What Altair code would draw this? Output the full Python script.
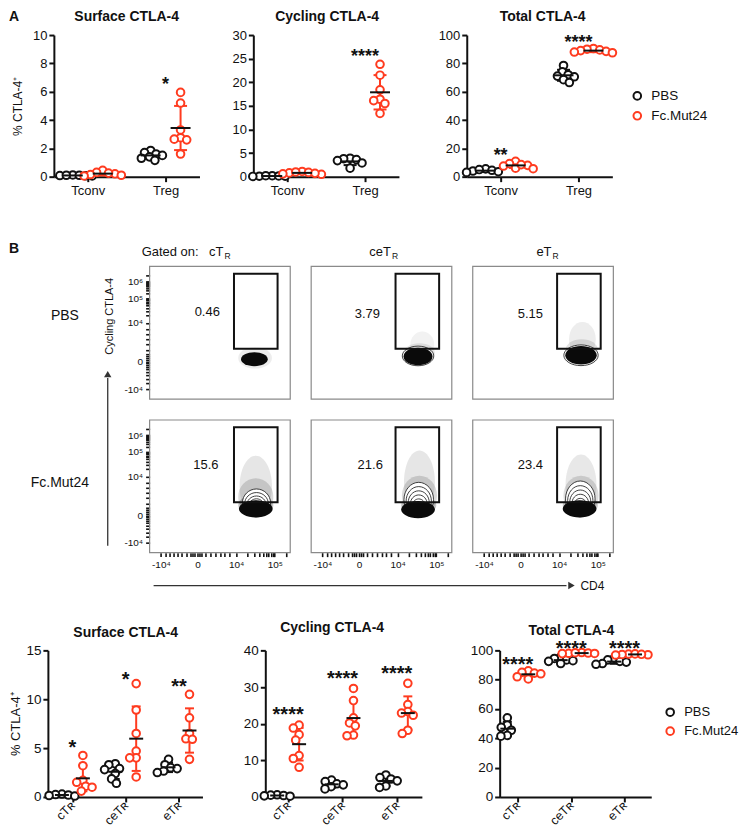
import json
import math
import altair as alt
import pandas as pd

FONT = "Liberation Sans"
INK = "#111111"
RED = "#ff3b1f"
GROUPS = ["PBS", "Fc.Mut24"]
GROUP_COLORS = [INK, RED]

# ---------------- Panel A (Tconv / Treg) ----------------
A_CATS = ["Tconv", "Treg"]
A_SURF_PBS = [[0.12, 0.08, 0.10, 0.05, 0.06, 0.10], [1.85, 1.70, 1.60, 1.50, 1.40, 1.30, 1.15]]
A_SURF_FC = [[0.45, 0.30, 0.20, 0.15, 0.10, 0.25, 0.05], [5.95, 5.20, 3.30, 2.75, 2.65, 2.60, 1.60]]
A_SURF_STARS = ["", "*"]
A_SURF_STAR_Y = [0, 6.8]
A_CYC_PBS = [[0.20, 0.15, 0.10, 0.10, 0.20, 0.05], [3.9, 3.8, 3.6, 3.4, 2.9, 1.8]]
A_CYC_FC = [[1.1, 0.9, 0.8, 0.6, 1.0, 0.5, 0.7], [23.8, 21.5, 18.4, 16.4, 16.1, 15.5, 13.4]]
A_CYC_STARS = ["", "****"]
A_CYC_STAR_Y = [0, 26.4]
A_TOT_PBS = [[5.5, 4.5, 4.0, 3.5, 3.0, 5.0], [78.5, 74.0, 72.0, 71.0, 70.5, 68.5, 66.5]]
A_TOT_FC = [[10.8, 9.2, 8.0, 7.5, 6.0, 5.6, 8.5], [90.5, 90.0, 89.5, 89.0, 88.5, 88.0, 87.5]]
A_TOT_STARS = ["**", "****"]
A_TOT_STAR_Y = [18, 97.7]

# ---------------- Bottom panels (cTR / ceTR / eTR) ----------------
B_CATS = ["cTʀ", "ceTʀ", "eTʀ"]
B_SURF_PBS = [[0.30, 0.25, 0.20, 0.15, 0.10], [3.4, 3.3, 2.9, 2.8, 2.4, 1.85, 1.4], [3.85, 3.3, 3.0, 2.9, 2.65, 2.5]]
B_SURF_FC = [[4.25, 3.2, 1.7, 1.5, 1.1, 1.0, 0.6], [11.6, 8.9, 6.5, 4.7, 4.0, 4.0, 2.05], [10.5, 8.1, 6.5, 5.95, 5.9, 3.85]]
B_SURF_STARS = ["*", "*", "**"]
B_SURF_STAR_Y = [5.5, 12.5, 11.8]
B_CYC_PBS = [[0.6, 0.5, 0.4, 0.3, 0.2], [4.6, 4.2, 3.6, 3.3, 2.8, 2.2], [6.0, 5.3, 4.9, 4.4, 3.0, 2.6]]
B_CYC_FC = [[19.6, 18.8, 17.0, 15.5, 11.3, 10.5, 8.1], [29.6, 26.3, 21.6, 20.2, 19.4, 16.9, 16.7], [31.0, 25.2, 23.3, 22.9, 22.3, 18.2, 17.3]]
B_CYC_STARS = ["****", "****", "****"]
B_CYC_STAR_Y = [23.8, 33.6, 35.0]
B_TOT_PBS = [[54, 49, 47.5, 45.5, 42, 41.5], [95.5, 94.5, 93.5, 93, 92.5, 91], [94.5, 93.5, 92.5, 92, 91, 90.5]]
B_TOT_FC = [[86, 85, 84.5, 84, 82, 80.5], [98.5, 98.2, 98.0, 97.8, 98.4, 97.9], [97.5, 97.2, 97.0, 96.8, 97.6, 97.3]]
B_TOT_STARS = ["****", "****", "****"]
B_TOT_STAR_Y = [93.5, 104.6, 104.0]

# ---------------- Flow panels ----------------
FLOW_ROWS = ["PBS", "Fc.Mut24"]
FLOW_COLS = ["cT", "ceT", "eT"]
FLOW_PCT = [["0.46", "3.79", "5.15"], ["15.6", "21.6", "23.4"]]
FLOW_PCT_X = [[41, 40, 41], [40, 42, 41]]
FLOW_PCT_Y = [[66, 64, 64], [66, 66, 66]]
GATE_X = [60, 91]
GATE_Y = [38, 94.5]
# (kind, cx, cy, ax, ay, density) in axis units 0-100
BLOB_PBS_CT = [("haze", 75, 31, 12, 8, 0.08), ("core", 74.5, 30, 9.5, 5.2, 1)]
BLOB_PBS_CET = [("haze", 79, 41, 8.5, 10, 0.06), ("haze", 77, 35, 11, 7, 0.10),
                ("outer", 76, 32.5, 11.2, 7.4, 1), ("core", 76, 32, 10.3, 6.6, 1)]
BLOB_PBS_ET = [("haze", 78, 45, 9.5, 13, 0.08), ("haze", 77.5, 37, 11.5, 8, 0.12),
               ("outer", 77, 33, 12.2, 7.8, 1), ("core", 77, 33, 11.2, 7.0, 1)]
BLOB_FC_CT = [("haze", 75.5, 50, 11.5, 23, 0.11), ("haze", 75.5, 42, 12.5, 14, 0.16), ("haze", 75.5, 36, 12.5, 7.5, 0.25),
              ("outer", 76, 37.5, 10, 10.5, 1), ("ring", 76, 36.5, 8.5, 8.8, 1), ("ring", 76, 35.5, 7, 7.2, 1),
              ("ring", 76, 34.8, 5.5, 5.8, 1), ("ring", 76, 34.2, 4, 4.5, 1), ("core", 75.5, 33, 12, 6.5, 1)]
BLOB_FC_CET = [("haze", 77, 53, 11, 24, 0.11), ("haze", 77, 43, 12.5, 15, 0.16), ("haze", 76.5, 36, 12.5, 7.5, 0.25),
               ("outer", 76.5, 40, 10.5, 13, 1), ("ring", 76.5, 38.8, 9, 11, 1), ("ring", 76.5, 37.6, 7.5, 9, 1),
               ("ring", 76.5, 36.5, 6, 7, 1), ("ring", 76.5, 35.5, 4.5, 5, 1), ("core", 76, 32.5, 12, 6.5, 1)]
BLOB_FC_ET = [("haze", 77, 51, 11, 23, 0.10), ("haze", 77, 43, 12.5, 15, 0.15), ("haze", 76.5, 36, 12.5, 7.5, 0.24),
              ("outer", 76.5, 40.5, 10.5, 13.5, 1), ("ring", 76.5, 39.2, 9, 11.3, 1), ("ring", 76.5, 38, 7.5, 9.2, 1),
              ("ring", 76.5, 36.8, 6, 7.2, 1), ("ring", 76.5, 35.7, 4.5, 5.2, 1), ("core", 76, 33, 12, 6.5, 1)]
FLOW_BLOBS = [[BLOB_PBS_CT, BLOB_PBS_CET, BLOB_PBS_ET], [BLOB_FC_CT, BLOB_FC_CET, BLOB_FC_ET]]
FLOW_X_MAJOR = [8, 34, 61.5, 89]
FLOW_X_MAJOR_LBL = ["-10⁴", "0", "10⁴", "10⁵"]
FLOW_X_MINOR = [11, 14, 17, 20, 23, 26, 29, 30.5, 32, 35.5, 37, 40, 43, 46.5, 50, 53.5, 57,
                69.8, 74.6, 78.1, 80.7, 82.9, 84.7, 86.3, 87.7, 97]
FLOW_Y_MAJOR = [7.5, 28, 57.5, 76, 88.5]
FLOW_Y_MAJOR_LBL = ["-10⁴", "0", "10⁴", "10⁵", "10⁶"]
FLOW_Y_MINOR = [12, 15, 18, 20.5, 22.5, 24, 25.5, 27, 29, 30.5, 32, 33.5, 37, 41, 45, 49, 53,
                63.1, 66.3, 68.6, 70.4, 71.9, 73.1, 74.2, 75.1, 79.8, 82, 83.5, 84.7, 85.7, 86.6, 87.3, 87.9, 93]

ONE = pd.DataFrame({"k": [0]})
HLINE = "M -1 0 L 1 0"


def swarm(vals, ppy, d=6.5):
    placed = []
    offs = [0.0] * len(vals)
    order = sorted(range(len(vals)), key=lambda i: -vals[i])
    for i in order:
        y = vals[i] * ppy
        cands = [0.0]
        for (px, py) in placed:
            dy = abs(py - y)
            if dy < d:
                dx = math.sqrt(d * d - dy * dy)
                cands += [px - dx, px + dx]
        cands.sort(key=lambda c: (abs(c), c))
        for c in cands:
            if all((c - px) ** 2 + (y - py) ** 2 >= d * d - 1e-6 for px, py in placed):
                offs[i] = c
                break
        placed.append((offs[i], y))
    return offs


def text_at(txt, x, y, size=13, weight="normal", align="left", baseline="alphabetic", angle=0, color=INK):
    kw = dict(text=txt, font=FONT, fontSize=size, fontWeight=weight, align=align, baseline=baseline, color=color)
    if angle:
        kw["angle"] = angle
    return alt.Chart(ONE).mark_text(**kw).encode(x=alt.value(x), y=alt.value(y))


def bounds_rule(x1, y1, x2, y2):
    return alt.Chart(ONE).mark_rule(opacity=0).encode(
        x=alt.value(x1), x2=alt.value(x2), y=alt.value(y1), y2=alt.value(y2))


def dot_panel(cats, pbs, fc, star_txt, star_y, ymax, yticks, w, h, xdom, title, title_x, title_y,
              ytitle=None, label_fs=13, xlabel_fs=13, ytitle_fs=12, ytitle_pad=8, star_fs=18, off_px=15,
              mean_w=20, cap_w=13, rotate=False, legend_at=None, legend_fs=13.5, letter=None, bounds=None):
    ppx = w / (xdom[1] - xdom[0])
    ppy = h / ymax
    rows = []
    for ci in range(len(cats)):
        for gi, series in enumerate((pbs, fc)):
            vals = series[ci]
            xc = ci + 1 + (off_px if gi else -off_px) / ppx
            for v, o in zip(vals, swarm(vals, ppy)):
                rows.append({"grp": GROUPS[gi], "xc": xc, "x": xc + o / ppx, "v": v})
    df = pd.DataFrame(rows)
    stars = pd.DataFrame([{"x": i + 1, "y": y, "t": t}
                          for i, (t, y) in enumerate(zip(star_txt, star_y)) if t])

    xaxis = alt.Axis(values=list(range(1, len(cats) + 1)),
                     labelExpr=json.dumps(cats, ensure_ascii=False) + "[datum.value - 1]",
                     grid=False, domainColor=INK, domainWidth=2, tickColor=INK, tickWidth=2, tickSize=5,
                     labelFont=FONT, labelFontSize=xlabel_fs, labelColor=INK,
                     labelPadding=1 if rotate else 3,
                     labelAngle=-45 if rotate else 0, labelAlign="right" if rotate else "center",
                     labelBaseline="middle" if rotate else "top")
    yaxis = alt.Axis(values=yticks, grid=False, domainColor=INK, domainWidth=2, tickColor=INK, tickWidth=2,
                     tickSize=5, labelFont=FONT, labelFontSize=label_fs, labelColor=INK, labelPadding=2,
                     titleFont=FONT, titleFontSize=ytitle_fs, titleFontWeight="normal", titleColor=INK,
                     titlePadding=ytitle_pad)
    xs = alt.Scale(domain=list(xdom), nice=False, zero=False)
    ys = alt.Scale(domain=[0, ymax], nice=False)

    def X(f):
        return alt.X(f + ":Q", scale=xs, axis=xaxis, title=None)

    def Y(f):
        return alt.Y(f + ":Q", scale=ys, axis=yaxis, title=ytitle)

    stroke = alt.Stroke("grp:N", scale=alt.Scale(domain=GROUPS, range=GROUP_COLORS), legend=None)
    base = alt.Chart(df)
    agg = base.transform_aggregate(m="mean(v)", sd="stdev(v)", groupby=["xc", "grp"]).transform_calculate(
        lo="datum.m - datum.sd", hi="datum.m + datum.sd")
    layers = []
    if bounds:
        layers.append(bounds_rule(*bounds))
    layers.append(agg.mark_rule(strokeWidth=2).encode(x=X("xc"), y=Y("lo"), y2="hi:Q", stroke=stroke))
    layers.append(agg.transform_fold(["lo", "hi"], as_=["k", "cv"]).mark_point(
        shape=HLINE, size=cap_w ** 2, strokeWidth=2, opacity=1).encode(x=X("xc"), y=Y("cv"), stroke=stroke))
    layers.append(base.mark_point(shape="circle", size=58, strokeWidth=2, fill="white", opacity=1).encode(
        x=X("x"), y=Y("v"), stroke=stroke))
    layers.append(agg.mark_point(shape=HLINE, size=mean_w ** 2, strokeWidth=2, opacity=1, color=INK).encode(
        x=X("xc"), y=Y("m")))
    layers.append(alt.Chart(stars).mark_text(font=FONT, fontSize=star_fs, fontWeight="bold", color=INK,
                                             baseline="alphabetic", dy=round(star_fs * 0.55)).encode(
        x=X("x"), y=Y("y"), text="t:N"))
    layers.append(text_at(title, title_x, title_y, size=14, weight="bold", align="center"))
    if letter:
        layers.append(text_at(letter[0], letter[1], letter[2], size=14, weight="bold"))
    if legend_at:
        lx, ly, lh = legend_at
        for gi, g in enumerate(GROUPS):
            layers.append(alt.Chart(ONE).mark_point(shape="circle", size=58, strokeWidth=2, fill="white",
                                                    stroke=GROUP_COLORS[gi], opacity=1).encode(
                x=alt.value(lx), y=alt.value(ly + gi * lh)))
            layers.append(text_at(g, lx + 14, ly + gi * lh, size=legend_fs, baseline="middle"))
    return alt.layer(*layers).properties(width=w, height=h)


def spacer(w):
    # an invisible 1-px mark well inside the spacer, so it never widens the layout bounds
    return alt.Chart(ONE).mark_point(opacity=0, size=1).encode(
        x=alt.value(w / 2), y=alt.value(5)).properties(width=w, height=10)


# Page geometry: every row's origin sits at page x = 8 (left edge); leading spacers move the plots.
# ---------------- Row A ----------------
AW, AH = 146, 142
AXD = (0.565, 2.435)
a1 = dot_panel(A_CATS, A_SURF_PBS, A_SURF_FC, A_SURF_STARS, A_SURF_STAR_Y, 10, [0, 2, 4, 6, 8, 10], AW, AH, AXD,
               "Surface CTLA-4", 73, -14, ytitle="% CTLA-4⁺", ytitle_fs=12, ytitle_pad=8,
               letter=("A", -45, -14), bounds=(-45, -25, 688, 199))
a2 = dot_panel(A_CATS, A_CYC_PBS, A_CYC_FC, A_CYC_STARS, A_CYC_STAR_Y, 30, [0, 5, 10, 15, 20, 25, 30], AW, AH, AXD,
               "Cycling CTLA-4", 74, -14)
a3 = dot_panel(A_CATS, A_TOT_PBS, A_TOT_FC, A_TOT_STARS, A_TOT_STAR_Y, 100, [0, 20, 40, 60, 80, 100], AW, AH, AXD,
               "Total CTLA-4", 76, -14, legend_at=(171, 61, 20))
row_a = alt.hconcat(spacer(45), a1, spacer(54), a2, spacer(68), a3, spacing=0, bounds="flush")

# ---------------- Flow (middle) ----------------
PW, PH, GAP = 141, 133, 21
UX, UY = PW / 100, PH / 100
GXU, GYU = GAP / UX, GAP / UY
XMAX, YMAX = 300 + 2 * GXU, 200 + GYU


def px0(c):
    return c * (100 + GXU)


def py0(r):
    return (1 - r) * (100 + GYU)


frames, gates, pcts, ells = [], [], [], []
sids, paths = [], []
K = 0.5523
for r in range(2):
    for c in range(3):
        x0, y0 = px0(c), py0(r)
        frames.append({"X0": x0, "X1": x0 + 100, "Y0": y0, "Y1": y0 + 100})
        gates.append({"X0": x0 + GATE_X[0], "X1": x0 + GATE_X[1], "Y0": y0 + GATE_Y[0], "Y1": y0 + GATE_Y[1]})
        pcts.append({"X": x0 + FLOW_PCT_X[r][c], "Y": y0 + FLOW_PCT_Y[r][c], "t": FLOW_PCT[r][c]})
        for (kind, cx, cy, ax, ay, dens) in FLOW_BLOBS[r][c]:
            sid = "e%d" % len(sids)
            q = (ay * UY) / (ax * UX)
            p = ("M1,0C1,{a:.4f} {k:.4f},{q:.4f} 0,{q:.4f}C{nk:.4f},{q:.4f} -1,{a:.4f} -1,0"
                 "C-1,{na:.4f} {nk:.4f},{nq:.4f} 0,{nq:.4f}C{k:.4f},{nq:.4f} 1,{na:.4f} 1,0Z").format(
                a=K * q, k=K, q=q, nk=-K, na=-K * q, nq=-q)
            sids.append(sid)
            paths.append(p)
            ells.append({"X": x0 + cx, "Y": y0 + cy, "sid": sid, "sz": (2 * ax * UX) ** 2, "op": dens, "kind": kind})
frames_df, gates_df, pcts_df, ells_df = map(pd.DataFrame, (frames, gates, pcts, ells))

xv, xl, yv, yl = [], [], [], []
for c in range(3):
    for v, lab in list(zip(FLOW_X_MAJOR, FLOW_X_MAJOR_LBL)) + [(m, "") for m in FLOW_X_MINOR]:
        xv.append(round(px0(c) + v, 3))
        xl.append(lab)
for r in range(2):
    for v, lab in list(zip(FLOW_Y_MAJOR, FLOW_Y_MAJOR_LBL)) + [(m, "") for m in FLOW_Y_MINOR]:
        yv.append(round(py0(r) + v, 3))
        yl.append(lab)


def flow_axis(vals, labs):
    return alt.Axis(values=vals,
                    labelExpr=json.dumps(labs, ensure_ascii=False) + "[indexof(" + json.dumps(vals) + ", datum.value)]",
                    grid=False, domain=False, tickColor=INK, tickWidth=1.6, tickSize=4, labelFont=FONT,
                    labelFontSize=10, labelColor=INK, labelPadding=3, labelOverlap=False, labelFlush=False)


FXS = alt.Scale(domain=[0, XMAX], nice=False, zero=False)
FYS = alt.Scale(domain=[0, YMAX], nice=False, zero=False)
FXA, FYA = flow_axis(xv, xl), flow_axis(yv, yl)


def FX(f):
    return alt.X(f + ":Q", scale=FXS, axis=FXA, title=None)


def FY(f):
    return alt.Y(f + ":Q", scale=FYS, axis=FYA, title=None)


SHAPE = alt.Shape("sid:N", scale=alt.Scale(domain=sids, range=paths), legend=None)


def ell_layer(kind, **mk):
    return alt.Chart(ells_df).transform_filter(alt.datum.kind == kind).mark_point(**mk).encode(
        x=FX("X"), y=FY("Y"), shape=SHAPE, size=alt.Size("sz:Q", scale=None),
        opacity=alt.Opacity("op:Q", scale=None))


mid_layers = [
    bounds_rule(-141, -31, 592, 342),
    alt.Chart(frames_df).mark_rect(fill="transparent", stroke="#8a8a8a", strokeWidth=1.2).encode(
        x=FX("X0"), x2="X1:Q", y=FY("Y0"), y2="Y1:Q"),
    ell_layer("haze", filled=True, color="#1a1a1a", strokeWidth=0),
    ell_layer("outer", filled=True, color="white", stroke=INK, strokeWidth=0.8),
    ell_layer("ring", filled=False, color=INK, strokeWidth=0.8),
    ell_layer("core", filled=True, color="#0a0a0a", strokeWidth=0),
    alt.Chart(gates_df).mark_rect(fill="transparent", stroke=INK, strokeWidth=2).encode(
        x=FX("X0"), x2="X1:Q", y=FY("Y0"), y2="Y1:Q"),
    alt.Chart(pcts_df).mark_text(font=FONT, fontSize=13, color=INK, align="center", baseline="middle").encode(
        x=FX("X"), y=FY("Y"), text="t:N"),
    text_at("B", -141, -13, size=14, weight="bold"),
    text_at("Gated on:", -8, -10, size=13),
    text_at("cT", 74, -10, size=13, align="right"), text_at("R", 75, -7, size=8.5),
    text_at("ceT", 242, -10, size=13, align="right"), text_at("R", 243, -7, size=8.5),
    text_at("eT", 403, -10, size=13, align="right"), text_at("R", 404, -7, size=8.5),
    text_at(FLOW_ROWS[0], -85, 50, size=14, align="center", baseline="middle"),
    text_at(FLOW_ROWS[1], -90, 217, size=14, align="center", baseline="middle"),
    text_at("Cycling CTLA-4", -40, 50, size=11, align="center", baseline="middle", angle=270),
    alt.Chart(ONE).mark_rule(color="#333333", strokeWidth=1.3).encode(
        x=alt.value(-42), y=alt.value(112), y2=alt.value(280)),
    alt.Chart(ONE).mark_point(shape="triangle-up", size=55, filled=True, color="#333333", opacity=1).encode(
        x=alt.value(-42), y=alt.value(108)),
    alt.Chart(ONE).mark_rule(color="#333333", strokeWidth=1.3).encode(
        x=alt.value(4), x2=alt.value(418), y=alt.value(320)),
    alt.Chart(ONE).mark_point(shape="triangle-right", size=55, filled=True, color="#333333", opacity=1).encode(
        x=alt.value(423), y=alt.value(320)),
    text_at("CD4", 432, 320, size=12, baseline="middle"),
]
mid = alt.layer(*mid_layers).properties(width=3 * PW + 2 * GAP, height=2 * PH + GAP)
row_mid = alt.hconcat(spacer(141), mid, spacing=0, bounds="flush")

# ---------------- Row B ----------------
BH = 147
b1 = dot_panel(B_CATS, B_SURF_PBS, B_SURF_FC, B_SURF_STARS, B_SURF_STAR_Y, 15, [0, 5, 10, 15], 155, BH,
               (0.54, 3.44), "Surface CTLA-4", 78, -13, ytitle="% CTLA-4⁺", label_fs=13.5, xlabel_fs=12.5,
               ytitle_fs=13, ytitle_pad=3, star_fs=20, off_px=10.5, mean_w=14, cap_w=9, rotate=True,
               bounds=(-39, -41, 694, 173))
b2 = dot_panel(B_CATS, B_CYC_PBS, B_CYC_FC, B_CYC_STARS, B_CYC_STAR_Y, 40, [0, 10, 20, 30, 40], 157, BH,
               (0.58, 3.46), "Cycling CTLA-4", 67, -18, label_fs=13.5, xlabel_fs=12.5, star_fs=20, off_px=11,
               mean_w=14, cap_w=9, rotate=True)
b3 = dot_panel(B_CATS, B_TOT_PBS, B_TOT_FC, B_TOT_STARS, B_TOT_STAR_Y, 100, [0, 20, 40, 60, 80, 100], 152, BH,
               (0.66, 3.5), "Total CTLA-4", 72, -15, label_fs=13.5, xlabel_fs=12.5, star_fs=20, off_px=10.5,
               mean_w=14, cap_w=9, rotate=True, legend_at=(171, 62, 19), legend_fs=13)
row_b = alt.hconcat(spacer(39), b1, spacer(63), b2, spacer(78), b3, spacing=0, bounds="flush")

chart = alt.vconcat(row_a, row_mid, row_b, spacing=0, bounds="full").properties(
    padding=0, background="white"
).configure(font=FONT).configure_view(stroke="transparent")

chart.save("out.html", embed_options={"renderer": "svg", "actions": False})
